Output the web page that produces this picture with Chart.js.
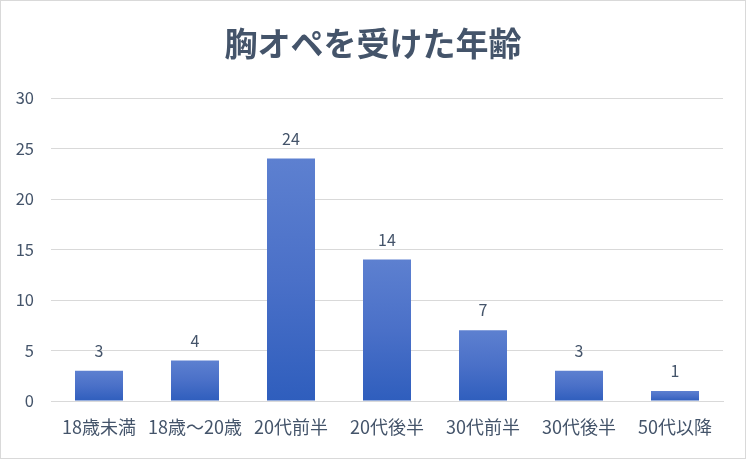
<!DOCTYPE html>
<html>
<head>
<meta charset="utf-8">
<script src="https://cdn.jsdelivr.net/npm/chart.js@4"></script>
<style>
  html, body { margin: 0; padding: 0; background: #fff; }
  #wrap { width: 746px; height: 459px; }
</style>
</head>
<body>
<div id="wrap"><canvas id="chart"></canvas></div>
<script>
const categories = ['18歳未満', '18歳～20歳', '20代前半', '20代後半', '30代前半', '30代後半', '50代以降'];
const counts = [3, 4, 24, 14, 7, 3, 1];
const yTicks = [0, 5, 10, 15, 20, 25, 30];
const chartTitle = '胸オペを受けた年齢';

const FONT = "'Noto Sans CJK JP', 'Noto Sans', sans-serif";
const TEXT = '#44546a';

// 棒ごとのグラデーション（上が明るい）
function barFill(ctx) {
  const chart = ctx.chart;
  const y = chart.scales.y;
  if (!y || !chart.chartArea || ctx.type !== 'data') return '#4472c4';
  const top = y.getPixelForValue(ctx.raw);
  const base = y.getPixelForValue(0);
  if (!isFinite(top) || !isFinite(base) || top === base) return '#4472c4';
  const g = chart.ctx.createLinearGradient(0, top, 0, base);
  g.addColorStop(0, '#5d80d0');
  g.addColorStop(0.5, '#4a70c8');
  g.addColorStop(1, '#2f5ebd');
  return g;
}

// タイトル・値ラベル・外枠
const extras = {
  id: 'extras',
  afterDatasetsDraw(chart) {
    const c = chart.ctx;
    const meta = chart.getDatasetMeta(0);
    c.save();
    c.font = '16px ' + FONT;
    c.fillStyle = TEXT;
    c.textAlign = 'center';
    c.textBaseline = 'middle';
    meta.data.forEach((bar, i) => {
      c.fillText(String(counts[i]), bar.x, bar.y - 20);
    });
    c.restore();
  },
  afterDraw(chart) {
    const c = chart.ctx;
    c.save();
    c.font = 'bold 33px ' + FONT;
    c.fillStyle = TEXT;
    c.textAlign = 'center';
    c.textBaseline = 'middle';
    c.fillText(chartTitle, chart.width / 2, 43);
    c.strokeStyle = '#d9d9d9';
    c.lineWidth = 1;
    c.strokeRect(0.5, 0.5, chart.width - 1, chart.height - 1);
    c.restore();
  }
};

new Chart(document.getElementById('chart'), {
  type: 'bar',
  data: {
    labels: categories,
    datasets: [{
      data: counts,
      backgroundColor: barFill,
      borderWidth: 0,
      barPercentage: 0.5,
      categoryPercentage: 1.0
    }]
  },
  options: {
    responsive: true,
    maintainAspectRatio: false,
    animation: false,
    layout: { padding: { left: 0, right: 23, top: 98, bottom: 0 } },
    plugins: {
      legend: { display: false },
      tooltip: { enabled: false },
      title: { display: false }
    },
    scales: {
      x: {
        grid: { display: false, drawTicks: false },
        border: { display: true, color: '#d9d9d9', width: 1 },
        ticks: {
          color: TEXT,
          font: { family: FONT, size: 18 },
          padding: 15,
          maxRotation: 0,
          autoSkip: false
        },
        afterFit(scale) { scale.height = 58; }
      },
      y: {
        min: 0,
        max: 30,
        afterBuildTicks(scale) { scale.ticks = yTicks.map(v => ({ value: v })); },
        grid: { color: '#d9d9d9', drawTicks: false },
        border: { display: false },
        ticks: {
          color: TEXT,
          font: { family: FONT, size: 16.5 },
          padding: 17
        },
        afterFit(scale) { scale.width = 51; }
      }
    }
  },
  plugins: [extras]
});
</script>
</body>
</html>
